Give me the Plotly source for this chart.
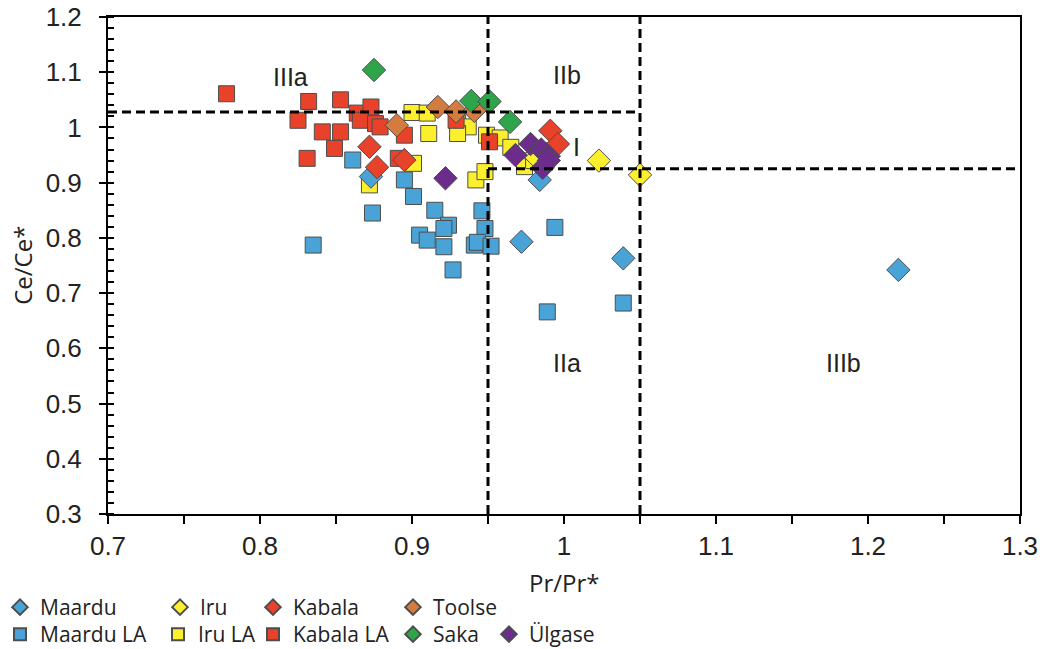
import plotly.graph_objects as go

# ---- data: Pr/Pr* (x) and Ce/Ce* (y) for each sample group ----
maardu_x = [0.873, 0.984, 0.972, 1.039, 1.220]
maardu_y = [0.911, 0.905, 0.793, 0.763, 0.742]

maardu_la_x = [0.861, 0.835, 0.874, 0.895, 0.901, 0.905, 0.910, 0.915, 0.924, 0.921,
               0.921, 0.927, 0.946, 0.948, 0.941, 0.943, 0.952, 0.994, 0.989, 1.039]
maardu_la_y = [0.941, 0.787, 0.845, 0.905, 0.875, 0.805, 0.796, 0.850, 0.823, 0.817,
               0.784, 0.742, 0.849, 0.817, 0.787, 0.792, 0.785, 0.819, 0.666, 0.682]

iru_x = [1.023, 1.050, 0.982]
iru_y = [0.940, 0.914, 0.945]

iru_la_x = [0.900, 0.910, 0.911, 0.930, 0.937, 0.930, 0.901, 0.872, 0.942, 0.948,
            0.949, 0.958, 0.965, 0.974, 0.980, 0.986]
iru_la_y = [1.027, 1.026, 0.989, 1.008, 1.001, 0.989, 0.935, 0.896, 0.905, 0.920,
            0.986, 0.981, 0.964, 0.929, 0.940, 0.958]

kabala_x = [0.872, 0.877, 0.895, 0.991, 0.996]
kabala_y = [0.965, 0.928, 0.941, 0.994, 0.970]

kabala_la_x = [0.778, 0.832, 0.853, 0.825, 0.841, 0.853, 0.849, 0.831, 0.864, 0.873,
               0.866, 0.876, 0.879, 0.895, 0.891, 0.929, 0.951]
kabala_la_y = [1.061, 1.047, 1.050, 1.013, 0.992, 0.992, 0.962, 0.944, 1.026, 1.037,
               1.013, 1.007, 1.001, 0.986, 0.944, 1.013, 0.974]

toolse_x = [0.890, 0.917, 0.929, 0.941]
toolse_y = [1.004, 1.037, 1.029, 1.030]

saka_x = [0.875, 0.939, 0.951, 0.9645]
saka_y = [1.104, 1.048, 1.047, 1.010]

ulgase_x = [0.922, 0.968, 0.978, 0.985, 0.990, 0.986, 0.990]
ulgase_y = [0.908, 0.950, 0.970, 0.960, 0.948, 0.927, 0.940]

# field boundaries
pr_low, pr_high = 0.95, 1.05
ce_upper, ce_lower = 1.028, 0.925
x_range = [0.7, 1.3]
y_range = [0.3, 1.2]

# field labels
field_names = ["IIIa", "IIb", "I", "IIa", "IIIb"]
field_x = [0.820, 1.002, 1.008, 1.002, 1.184]
field_y = [1.091, 1.095, 0.965, 0.573, 0.573]

BLUE = "#4aa3d6"
YELLOW = "#fcef2e"
RED = "#e8422b"
ORANGE = "#d47c3f"
GREEN = "#2ea54a"
PURPLE = "#6b2c8c"
EDGE = dict(color="#4d4d4d", width=1)

W, H = 1044, 649

# legend rows (top edge in px) - two rows under the plot
ROW_TOP = [587, 614]

fig = go.Figure()

# squares first (laser-ablation series), diamonds drawn on top
series = [
    ("Maardu LA", maardu_la_x, maardu_la_y, BLUE, "square", (0, 1)),
    ("Iru LA", iru_la_x, iru_la_y, YELLOW, "square", (158, 1)),
    ("Kabala LA", kabala_la_x, kabala_la_y, RED, "square", (253, 1)),
    ("Maardu", maardu_x, maardu_y, BLUE, "diamond", (0, 0)),
    ("Iru", iru_x, iru_y, YELLOW, "diamond", (160, 0)),
    ("Kabala", kabala_x, kabala_y, RED, "diamond", (253, 0)),
    ("Toolse", toolse_x, toolse_y, ORANGE, "diamond", (393, 0)),
    ("Saka", saka_x, saka_y, GREEN, "diamond", (393, 1)),
    ("Ülgase", ulgase_x, ulgase_y, PURPLE, "diamond", (489, 1)),
]

legend_font = dict(family="Open Sans", size=21, color="#222")
legends = {}
for i, (name, xs, ys, col, sym, (lx, row)) in enumerate(series):
    key = "legend" if i == 0 else f"legend{i + 1}"
    size = 16 if sym == "square" else 18
    fig.add_trace(go.Scatter(
        x=xs, y=ys, mode="markers", name=name, legend=key, showlegend=True,
        marker=dict(symbol=sym, size=size, color=col, line=EDGE),
    ))
    legends[key] = dict(
        x=lx / W, y=1 - ROW_TOP[row] / H, xref="container", yref="container",
        xanchor="left", yanchor="top", orientation="v", font=legend_font,
        itemsizing="constant", bgcolor="rgba(0,0,0,0)",
    )

# dashed field boundaries
dash = dict(color="black", width=3, dash="9px,5px")
fig.add_shape(type="line", x0=pr_low, x1=pr_low, y0=y_range[0], y1=y_range[1], line=dash)
fig.add_shape(type="line", x0=pr_high, x1=pr_high, y0=y_range[0], y1=y_range[1], line=dash)
fig.add_shape(type="line", x0=x_range[0], x1=pr_high, y0=ce_upper, y1=ce_upper, line=dash)
fig.add_shape(type="line", x0=pr_low, x1=x_range[1], y0=ce_lower, y1=ce_lower, line=dash)

for t, fx, fy in zip(field_names, field_x, field_y):
    fig.add_annotation(x=fx, y=fy, text=t, showarrow=False,
                       font=dict(family="Arial", size=25, color="#222"))

axis_font = dict(family="Arial", size=26, color="#222")
title_font = dict(family="Open Sans", size=24, color="#222")

# axis titles
fig.add_annotation(xref="paper", yref="paper", x=0.5, y=-0.138, yanchor="middle",
                   text="Pr/Pr*", showarrow=False, font=title_font)
fig.add_annotation(xref="paper", yref="paper", x=-0.094, y=0.5, xanchor="center",
                   yanchor="middle", textangle=-90,
                   text="Ce/Ce*", showarrow=False, font=title_font)

fig.update_xaxes(
    range=x_range, dtick=0.1, tick0=0.7, showgrid=False, zeroline=False,
    showline=True, linecolor="black", linewidth=2, mirror=True,
    ticks="outside", ticklen=8, tickwidth=2, tickcolor="black",
    minor=dict(dtick=0.05, ticks="outside", ticklen=8, tickwidth=2, tickcolor="black"),
    tickfont=axis_font, tickformat="~g",
)
fig.update_yaxes(
    range=y_range, dtick=0.1, tick0=0.3, showgrid=False, zeroline=False,
    showline=True, linecolor="black", linewidth=2, mirror=True,
    ticks="outside", ticklen=7, tickwidth=2, tickcolor="black",
    minor=dict(dtick=0.02, ticks="inside", ticklen=6, tickwidth=1.5, tickcolor="black"),
    tickfont=axis_font, tickformat="~g", ticklabelstandoff=12,
)

fig.update_layout(
    width=W, height=H, showlegend=True,
    margin=dict(l=108, r=24, t=17, b=135, autoexpand=False),
    paper_bgcolor="white", plot_bgcolor="white",
    **legends,
)

fig.write_html("out.html")
